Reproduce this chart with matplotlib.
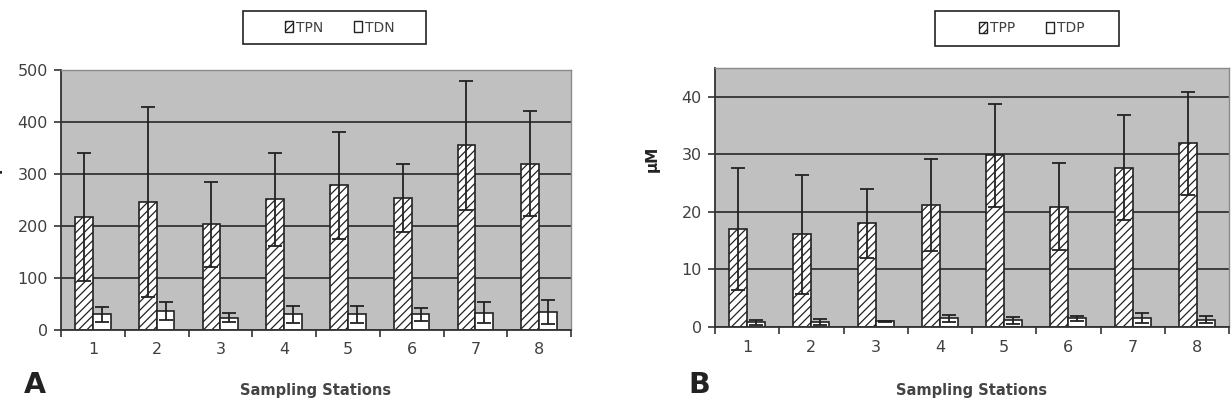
import numpy as np
import matplotlib
matplotlib.use("Agg")
import matplotlib.pyplot as plt
from matplotlib.patches import Rectangle, Patch

stations = [1, 2, 3, 4, 5, 6, 7, 8]

tpn = [217, 246, 203, 251, 278, 254, 355, 320]
tpn_err = [123, 182, 81, 90, 103, 66, 124, 101]
tdn = [30, 36, 24, 30, 30, 30, 33, 34]
tdn_err = [14, 17, 9, 16, 16, 13, 20, 23]

tpp = [17.1, 16.1, 18.0, 21.2, 29.8, 20.9, 27.7, 31.9]
tpp_err = [10.6, 10.3, 6.0, 8.0, 9.0, 7.6, 9.1, 8.9]
tdp = [0.8, 0.9, 1.0, 1.5, 1.2, 1.5, 1.6, 1.3]
tdp_err = [0.4, 0.5, 0.1, 0.6, 0.6, 0.4, 0.9, 0.6]

plt.rcParams['font.family'] = ['DejaVu Sans']
plt.rcParams['hatch.linewidth'] = 0.9

W, H = 1231, 400
fig = plt.figure(figsize=(W / 100, H / 100), dpi=100)

def px(x0, y0, x1, y1):
    # pixel box -> figure fraction [left, bottom, width, height]
    return [x0 / W, 1 - y1 / H, (x1 - x0) / W, (y1 - y0) / H]

txt = '#404040'
bw = 0.28

def panel(rect, a, a_err, b, b_err, ymax, yticks):
    ax = fig.add_axes(rect)
    x = np.array(stations)
    ax.set_facecolor('#c0c0c0')
    ax.bar(x - bw / 2, a, bw, color='white', edgecolor='#222', hatch='////', lw=1.2, zorder=2)
    ax.bar(x + bw / 2, b, bw, color='white', edgecolor='#222', lw=1.2, zorder=2)
    ax.errorbar(x - bw / 2, a, yerr=a_err, fmt='none', ecolor='#222', elinewidth=1.3,
                capsize=4.7, capthick=1.3, zorder=3)
    ax.errorbar(x + bw / 2, b, yerr=b_err, fmt='none', ecolor='#222', elinewidth=1.3,
                capsize=4.7, capthick=1.3, zorder=3)
    ax.set_xlim(0.5, 8.5)
    ax.set_ylim(0, ymax)
    ax.set_yticks(yticks)
    ax.yaxis.grid(True, color='#333', lw=1.3)
    ax.set_axisbelow(True)
    ax.set_xticks(np.arange(0.5, 9, 1))
    ax.set_xticklabels([])
    ax.set_xticks(x, minor=True)
    ax.set_xticklabels([str(s) for s in stations], minor=True)
    ax.tick_params(axis='x', which='major', length=5, width=1.2, color='#333')
    ax.tick_params(axis='x', which='minor', length=0, pad=9, labelsize=11.5, labelcolor=txt)
    ax.tick_params(axis='y', length=5, width=1.2, color='#333', pad=4.5, labelsize=11.5, labelcolor=txt)
    for s in ['left', 'bottom']:
        ax.spines[s].set_color('#333')
        ax.spines[s].set_linewidth(1.3)
    for s in ['top', 'right']:
        ax.spines[s].set_color('#8a8a8a')
        ax.spines[s].set_linewidth(1.0)
    return ax

panel(px(61, 70, 571, 330), tpn, tpn_err, tdn, tdn_err, 500, [0, 100, 200, 300, 400, 500])
panel(px(715, 68, 1229, 327), tpp, tpp_err, tdp, tdp_err, 45, [0, 10, 20, 30, 40])

# legends in boxes
def legbox(x0, y0, x1, y1, names):
    fig.patches.append(Rectangle((x0 / W, 1 - y1 / H), (x1 - x0) / W, (y1 - y0) / H,
                                 transform=fig.transFigure, fill=False, ec='#222', lw=1.2))
    handles = [Patch(facecolor='white', edgecolor='#222', hatch='////', lw=1.0),
               Patch(facecolor='white', edgecolor='#222', lw=1.0)]
    fig.legend(handles, names, loc='center', ncol=2, frameon=False,
               bbox_to_anchor=((x0 + x1) / 2 / W + 0.004, 1 - (y0 + y1) / 2 / H),
               fontsize=10, handlelength=0.6, handleheight=0.8, handletextpad=0.2,
               columnspacing=2.2, labelcolor=txt)

legbox(243, 11, 426, 44, ['TPN', 'TDN'])
legbox(935, 11, 1119, 46, ['TPP', 'TDP'])

fig.text(24 / W, 1 - 393 / H, 'A', fontsize=20.5, fontweight='bold', color='#222', va='baseline')
fig.text(688 / W, 1 - 393 / H, 'B', fontsize=20.5, fontweight='bold', color='#222', va='baseline')
fig.text(316 / W, 1 - 395 / H, 'Sampling Stations', fontsize=10.5, fontweight='bold',
         color='#444', ha='center', va='baseline')
fig.text(972 / W, 1 - 395 / H, 'Sampling Stations', fontsize=10.5, fontweight='bold',
         color='#444', ha='center', va='baseline')
fig.text(652 / W, 1 - 159 / H, 'μM', fontsize=11, fontweight='bold', color='#222',
         rotation=90, ha='center', va='center')
# left panel's y label is cut off at the image edge in the original
fig.text(-6 / W, 1 - 160 / H, 'μM', fontsize=11, fontweight='bold', color='#222',
         rotation=90, ha='center', va='center')

fig.savefig('out.png', dpi=100)
